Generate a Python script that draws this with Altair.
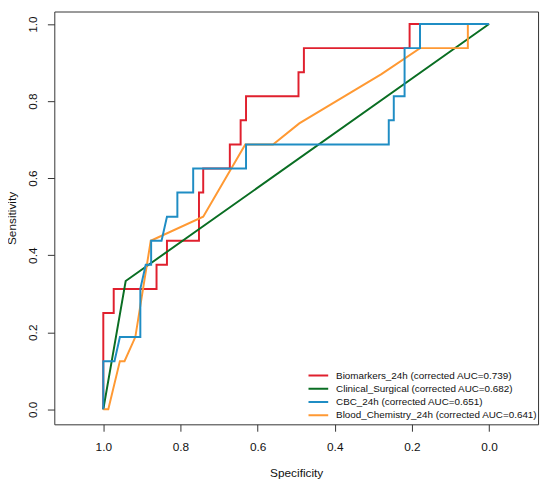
import altair as alt
import pandas as pd

series_names = [
    "Biomarkers_24h (corrected AUC=0.739)",
    "Clinical_Surgical (corrected AUC=0.682)",
    "CBC_24h (corrected AUC=0.651)",
    "Blood_Chemistry_24h (corrected AUC=0.641)",
]
series_colors = ["#E0202E", "#0A6E23", "#1F8DC4", "#FF9933"]

bio_spec = [1.0, 1.0, 0.973, 0.973, 0.862, 0.862, 0.835, 0.835, 0.752, 0.752,
            0.741, 0.741, 0.672, 0.672, 0.644, 0.644, 0.630, 0.630, 0.494, 0.494,
            0.480, 0.480, 0.206, 0.206, 0.0]
bio_sens = [0.0, 0.25, 0.25, 0.3125, 0.3125, 0.375, 0.375, 0.4375, 0.4375, 0.5625,
            0.5625, 0.625, 0.625, 0.6875, 0.6875, 0.75, 0.75, 0.8125, 0.8125, 0.875,
            0.875, 0.9375, 0.9375, 1.0, 1.0]

clin_spec = [1.0, 0.942, 0.0]
clin_sens = [0.0, 0.333, 1.0]

cbc_spec = [1.0, 1.0, 0.971, 0.957, 0.904, 0.904, 0.890, 0.876, 0.876, 0.849,
            0.835, 0.808, 0.808, 0.767, 0.767, 0.630, 0.630, 0.260, 0.260, 0.247,
            0.247, 0.219, 0.219, 0.179, 0.179, 0.0]
cbc_sens = [0.0, 0.125, 0.125, 0.1875, 0.1875, 0.3125, 0.375, 0.375, 0.4375, 0.4375,
            0.5, 0.5, 0.5625, 0.5625, 0.625, 0.625, 0.6875, 0.6875, 0.75, 0.75,
            0.8125, 0.8125, 0.9375, 0.9375, 1.0, 1.0]

chem_spec = [1.0, 0.987, 0.957, 0.945, 0.917, 0.877, 0.741, 0.632, 0.560, 0.492,
             0.372, 0.279, 0.179, 0.055, 0.055, 0.0]
chem_sens = [0.0, 0.0, 0.125, 0.125, 0.1875, 0.4375, 0.5, 0.6875, 0.6875, 0.742,
             0.814, 0.870, 0.9375, 0.9375, 1.0, 1.0]

x_ticks = [0.0, 0.2, 0.4, 0.6, 0.8, 1.0]
y_ticks = [0.0, 0.2, 0.4, 0.6, 0.8, 1.0]

draw_order = [
    (series_names[0], bio_spec, bio_sens),
    (series_names[1], clin_spec, clin_sens),
    (series_names[3], chem_spec, chem_sens),
    (series_names[2], cbc_spec, cbc_sens),
]
rows = []
for name, spec, sens in draw_order:
    for i, (s, t) in enumerate(zip(spec, sens)):
        rows.append({"series": name, "spec": s, "sens": t, "ord": i})
df = pd.DataFrame(rows)

FONT = "Liberation Sans"

chart = alt.Chart(df).mark_line(strokeWidth=2, clip=True).encode(
    x=alt.X("spec:Q",
            scale=alt.Scale(domain=[-0.127, 1.127], reverse=True, nice=False, zero=False),
            axis=alt.Axis(values=x_ticks, format=".1f", title="Specificity",
                          labelPadding=11, titlePadding=15)),
    y=alt.Y("sens:Q",
            scale=alt.Scale(domain=[-0.039, 1.0325], nice=False, zero=False),
            axis=alt.Axis(values=y_ticks, format=".1f", title="Sensitivity",
                          labelAngle=-90, labelAlign="center", labelBaseline="bottom",
                          labelPadding=8, titlePadding=8)),
    color=alt.Color("series:N",
                    scale=alt.Scale(domain=series_names, range=series_colors),
                    legend=alt.Legend(title=None, orient="none", legendX=257, legendY=363,
                                      symbolType="stroke", symbolSize=400,
                                      symbolStrokeWidth=2, labelFontSize=10,
                                      labelFont=FONT, labelColor="#111",
                                      labelOffset=7, rowPadding=0.4, clipHeight=13,
                                      padding=0, labelLimit=400)),
    order="ord:Q",
).properties(
    width=491, height=419,
    autosize=alt.AutoSizeParams(type="none"),
    padding={"left": 47, "top": 0, "right": 4, "bottom": 57},
).configure_view(
    stroke="#333", strokeWidth=1
).configure_axis(
    grid=False, domain=False, tickColor="#333", tickSize=7,
    labelFont=FONT, titleFont=FONT, labelFontSize=12, titleFontSize=12,
    labelColor="#111", titleColor="#111", titleFontWeight="normal",
)

chart.save("out.html", embed_options={"renderer": "svg", "actions": False})
